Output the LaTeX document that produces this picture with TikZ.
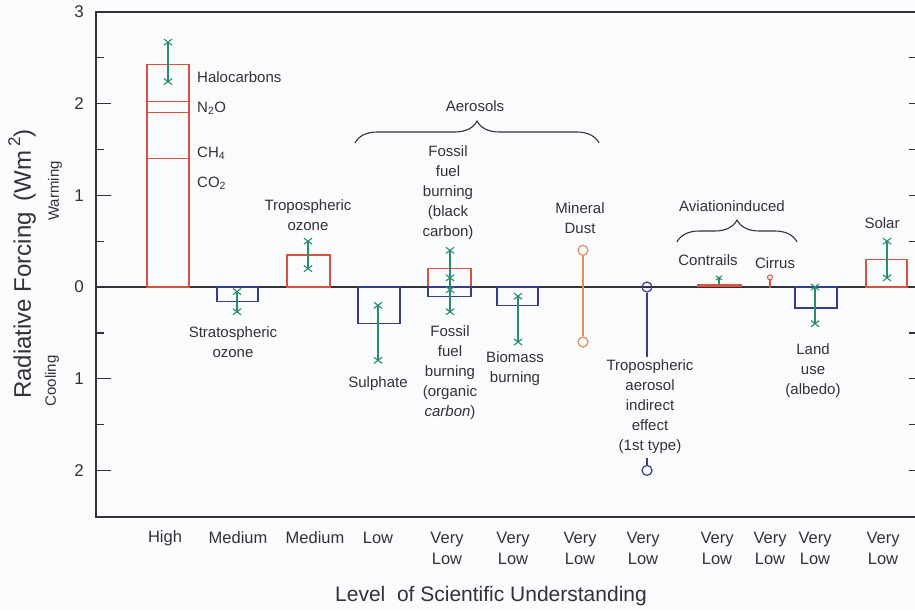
\documentclass[tikz,border=0pt]{standalone}
\usepackage{fontspec}
\setmainfont{Liberation Sans}
\usetikzlibrary{shapes.misc,decorations.pathreplacing}
\definecolor{bg}{RGB}{250,251,253}
\definecolor{ink}{RGB}{50,50,55}
\definecolor{rbar}{RGB}{212,84,64}
\definecolor{bbar}{RGB}{52,62,140}
\definecolor{gbar}{RGB}{40,140,110}
\definecolor{obar}{RGB}{228,140,90}
\begin{document}
\begin{tikzpicture}[x=1pt,y=-1pt,
  axisline/.style={draw=ink,line width=1.8pt},
  zeroline/.style={draw=ink,line width=1.3pt},
  tickline/.style={draw=ink,line width=1.3pt},
  rbox/.style={draw=rbar,line width=1.2pt},
  bbox/.style={draw=bbar,line width=1.2pt},
  err/.style={draw=gbar,line width=1.1pt},
  xm/.style={draw=gbar,cross out,line width=1.1pt,minimum width=7pt,minimum height=5pt,inner sep=0pt},
  ocirc/.style={draw=obar,circle,line width=1.2pt,minimum size=10pt,inner sep=0pt},
  bcirc/.style={draw=bbar,circle,line width=1.2pt,minimum size=10pt,inner sep=0pt},
  lbl/.style={text=ink,align=center,inner sep=0pt,font=\fontsize{15}{20}\selectfont},
  tlbl/.style={text=ink,align=center,inner sep=0pt,font=\fontsize{16.5}{21}\selectfont},
  ylbl/.style={text=ink,inner sep=0pt,font=\fontsize{17}{20}\selectfont},
  bracedeco/.style={draw=ink,line width=1.1pt,decorate,decoration={brace,amplitude=22pt}}]
\useasboundingbox (0,0) rectangle (915,611);
\fill[bg] (0,0) rectangle (915,611);
% frame
\draw[axisline] (918,12) -- (96,12) -- (96,517) -- (918,517);
\draw[axisline] (917,12) -- (917,517);
\draw[zeroline] (96,287) -- (918,287);
\foreach \v in {2,1,-1,-2} \draw[tickline] (96,{287-91.7*\v}) -- ++(15,0);
\foreach \v in {2.5,1.5,0.5,-0.5,-1.5} \draw[tickline] (96,{287-91.7*\v}) -- ++(8,0);
\foreach \v in {2.5,2,1.5,1,0.5,-0.5,-1,-1.5,-2} \draw[tickline] (909,{287-91.7*\v}) -- ++(9,0);
% y tick labels
\node[ylbl] (y3) at (79,12) {3};
\node[ylbl] (y2) at (79,103.6) {2};
\node[ylbl] (y1) at (79,195.3) {1};
\node[ylbl] (y0) at (79,287) {0};
\node[ylbl] (ym1) at (79,378.7) {1};
\node[ylbl] (ym2) at (79,470.4) {2};
\node[text=ink,rotate=90,inner sep=0pt,font=\fontsize{24}{28}\selectfont] (ytitle) at (22,264) {Radiative Forcing\, (Wm\,\raisebox{0.45em}{\fontsize{17}{20}\selectfont 2})};
\node[text=ink,rotate=90,inner sep=0pt,font=\fontsize{15}{18}\selectfont] (warm) at (55,191) {Warming};
\node[text=ink,rotate=90,inner sep=0pt,font=\fontsize{15}{18}\selectfont] (cool) at (52,381) {Cooling};
% data
\begin{scope}[shift={(0,287)},y=91.7pt]
  % high
  \draw[rbox] (147,0) rectangle (189,2.43);
  \draw[rbox] (147,1.4) -- (189,1.4);
  \draw[rbox] (147,1.9) -- (189,1.9);
  \draw[rbox] (147,2.02) -- (189,2.02);
  \node[xm] (ha) at (168,2.67) {};
  \node[xm] (hb) at (168,2.24) {};
  \draw[err] (ha.center) -- (hb.center);
  % stratospheric ozone
  \draw[bbox] (217,0) rectangle (258,-0.16);
  \node[xm] (sa) at (237,-0.05) {};
  \node[xm] (sb) at (237,-0.27) {};
  \draw[err] (sa.center) -- (sb.center);
  % tropospheric ozone
  \draw[rbox] (287,0) rectangle (330,0.35);
  \node[xm] (ta) at (308,0.5) {};
  \node[xm] (tb) at (308,0.2) {};
  \draw[err] (ta.center) -- (tb.center);
  % sulphate
  \draw[bbox] (358,0) rectangle (400,-0.4);
  \node[xm] (ua) at (378,-0.2) {};
  \node[xm] (ub) at (378,-0.8) {};
  \draw[err] (ua.center) -- (ub.center);
  % fossil fuel
  \draw[rbox] (428,0) rectangle (471,0.2);
  \draw[bbox] (428,0) rectangle (471,-0.1);
  \node[xm] (fa) at (450,0.4) {};
  \node[xm] (fb) at (450,0.1) {};
  \node[xm] (fc) at (450,-0.03) {};
  \node[xm] (fd) at (450,-0.27) {};
  \draw[err] (fa.center) -- (fd.center);
  % biomass
  \draw[bbox] (497,0) rectangle (538,-0.2);
  \node[xm] (ba) at (518,-0.1) {};
  \node[xm] (bb) at (518,-0.6) {};
  \draw[err] (ba.center) -- (bb.center);
  % mineral dust
  \node[ocirc] (ma) at (583,0.4) {};
  \node[ocirc] (mb) at (583,-0.6) {};
  \draw[draw=obar,line width=1.2pt] (ma) -- (mb);
  % tropospheric aerosol indirect
  \node[bcirc] (ia) at (647,0) {};
  \node[bcirc] (ib) at (647,-2) {};
  \coordinate (ic) at (647,-0.763);
  \coordinate (id) at (647,-1.865);
  \draw[draw=bbar,line width=1.2pt] (ia) -- (ic);
  \draw[draw=bbar,line width=1.2pt] (id) -- (ib);
  % contrails
  \draw[draw=rbar,line width=3pt] (697,0.017) -- (742,0.017);
  \node[draw=gbar,cross out,line width=1pt,minimum width=5pt,minimum height=3pt,inner sep=0pt] (ca) at (719,0.1) {};
  \coordinate (cb) at (719,0.03);
  \draw[err] (ca.center) -- (cb);
  % cirrus
  \node[draw=rbar,circle,line width=1pt,minimum size=5pt,inner sep=0pt] (ra) at (770,0.105) {};
  \coordinate (rb) at (770,-0.01);
  \draw[draw=rbar,line width=1.3pt] (ra) -- (rb);
  % land use
  \draw[bbox] (795,0) rectangle (837,-0.23);
  \node[xm] (la) at (815,0) {};
  \node[xm] (lb) at (815,-0.4) {};
  \draw[err] (la.center) -- (lb.center);
  % solar
  \draw[rbox] (866,0) rectangle (907,0.3);
  \node[xm] (oa) at (887,0.5) {};
  \node[xm] (ob) at (887,0.1) {};
  \draw[err] (oa.center) -- (ob.center);
\end{scope}
% bar labels
\node[lbl,anchor=west] (lhalo) at (197,77) {Halocarbons};
\node[lbl,anchor=west] (ln2o) at (197,108) {N\textsubscript{2}O};
\node[lbl,anchor=west] (lch4) at (197,153) {CH\textsubscript{4}};
\node[lbl,anchor=west] (lco2) at (197,183) {CO\textsubscript{2}};
\node[lbl] (lstrat) at (233,342) {Stratospheric\\ozone};
\node[lbl] (ltrop) at (308,215) {Tropospheric\\ozone};
\node[lbl] (lsulph) at (378,384) {Sulphate};
\node[lbl] (lbc) at (448,192.5) {Fossil\\fuel\\burning\\(black\\carbon)};
\node[lbl] (loc) at (450,373) {Fossil\\fuel\\burning\\(organic\\\textit{carbon})};
\node[lbl] (lbio) at (515,369) {Biomass\\burning};
\node[lbl] (ldust) at (580,218) {Mineral\\Dust};
\node[lbl] (lind) at (650,407) {Tropospheric\\aerosol\\indirect\\effect\\(1st type)};
\node[lbl] (laer) at (475,106) {Aerosols};
\node[lbl] (lavi) at (732,206) {Aviationinduced};
\node[lbl] (lcon) at (708,260) {Contrails};
\node[lbl] (lcir) at (775,263) {Cirrus};
\node[lbl] (lland) at (813,371) {Land\\use\\(albedo)};
\node[lbl] (lsol) at (882,223) {Solar};
% braces
\coordinate (aer1) at (355,143);
\coordinate (aer2) at (599,143);
\draw[bracedeco] (aer1) -- (aer2);
\coordinate (avi1) at (677,242);
\coordinate (avi2) at (797,242);
\draw[bracedeco] (avi1) -- (avi2);
% x tick labels
\node[tlbl] (x1) at (165,538) {High};
\node[tlbl] (x2) at (238,538) {Medium};
\node[tlbl] (x3) at (315,538) {Medium};
\node[tlbl] (x4) at (378,538) {Low};
\node[tlbl] (x5) at (447,548.5) {Very\\Low};
\node[tlbl] (x6) at (513,548.5) {Very\\Low};
\node[tlbl] (x7) at (580,548.5) {Very\\Low};
\node[tlbl] (x8) at (643,548.5) {Very\\Low};
\node[tlbl] (x9) at (717,548.5) {Very\\Low};
\node[tlbl] (x10) at (770,548.5) {Very\\Low};
\node[tlbl] (x11) at (815,548.5) {Very\\Low};
\node[tlbl] (x12) at (883,548.5) {Very\\Low};
\node[text=ink,inner sep=0pt,font=\fontsize{21}{24}\selectfont] (xtitle) at (491,596) {Level\ \ of Scientific Understanding};
\end{tikzpicture}
\end{document}
